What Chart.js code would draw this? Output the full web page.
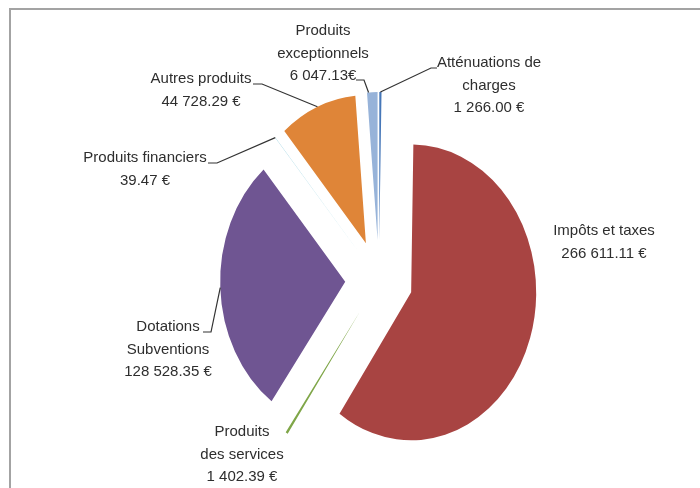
<!DOCTYPE html>
<html>
<head>
<meta charset="utf-8">
<script src="https://cdn.jsdelivr.net/npm/chart.js@4"></script>
<style>
  html, body { margin: 0; padding: 0; background: #fff; }
  #wrap { width: 700px; height: 488px; position: relative; }
</style>
</head>
<body>
<div id="wrap"><canvas id="c" width="700" height="488"></canvas></div>
<script>
// ---- data ----
const categories = ['Atténuations de charges', 'Impôts et taxes', 'Produits des services',
  'Dotations Subventions', 'Produits financiers', 'Autres produits', 'Produits exceptionnels'];
const values = [1266.00, 266611.11, 1402.39, 128528.35, 39.47, 44728.29, 6047.13];
const labelNameLines = [
  ['Atténuations de', 'charges'],
  ['Impôts et taxes'],
  ['Produits', 'des services'],
  ['Dotations', 'Subventions'],
  ['Produits financiers'],
  ['Autres produits'],
  ['Produits', 'exceptionnels']
];
const valueSuffix = [' €', ' €', ' €', ' €', ' €', ' €', '€'];
const colors = ['#4677B8', '#A84442', '#7FA648', '#6F5592', '#4BACC6', '#DF8538', '#97B3D9'];

// ---- layout / style ----
const SQUASH = 0.845;      // pie is drawn slightly narrower than tall
const EXPLODE = 40;        // slice explosion distance
const RADIUS = 148;
const LINE_H = 22.5;
// label layout: centre x, first line centre y, leader points (text side), arc fraction
const labelLayout = [
  { x: 489, y: 63, lead: [[437, 68], [431, 68]], t: 0.5 },
  { x: 604, y: 231, lead: null },
  { x: 242, y: 432, lead: null },
  { x: 168, y: 327, lead: [[203, 332], [211, 332]], t: 0.5 },
  { x: 145, y: 158, lead: [[208, 163], [217, 163]], t: 0.5 },
  { x: 201, y: 79, lead: [[253, 84], [262, 84]], t: 0.5 },
  { x: 323, y: 31, lead: [[356, 80], [364, 80]], t: 0.15 }
];

function fmt(v) {
  const parts = v.toFixed(2).split('.');
  parts[0] = parts[0].replace(/\B(?=(\d{3})+(?!\d))/g, ' ');
  return parts[0] + '.' + parts[1];
}

function centreX(chart) { return (chart.chartArea.left + chart.chartArea.right) / 2; }

function arcPoint(chart, arc, t) {
  const mid = (arc.startAngle + arc.endAngle) / 2;
  const a = arc.startAngle + t * (arc.endAngle - arc.startAngle);
  const x = arc.x + Math.cos(mid) * EXPLODE + Math.cos(a) * arc.outerRadius;
  const y = arc.y + Math.sin(mid) * EXPLODE + Math.sin(a) * arc.outerRadius;
  const cx = centreX(chart);
  return [cx + (x - cx) * SQUASH, y];
}

const framePlugin = {
  id: 'frame',
  beforeDraw(chart) {
    const ctx = chart.ctx;
    ctx.save();
    ctx.strokeStyle = '#a3a3a3';
    ctx.lineWidth = 2;
    ctx.beginPath();
    ctx.moveTo(10, 488);
    ctx.lineTo(10, 9);
    ctx.lineTo(700, 9);
    ctx.stroke();
    ctx.restore();
  }
};

const explodePlugin = {
  id: 'explode',
  beforeDatasetDraw(chart, args) {
    const ctx = chart.ctx;
    const cx = centreX(chart);
    ctx.save();
    ctx.translate(cx, 0);
    ctx.scale(SQUASH, 1);
    ctx.translate(-cx, 0);
    args.meta.data.forEach((arc) => {
      const mid = (arc.startAngle + arc.endAngle) / 2;
      ctx.save();
      ctx.translate(Math.cos(mid) * EXPLODE, Math.sin(mid) * EXPLODE);
      arc.draw(ctx);
      ctx.restore();
    });
    ctx.restore();
    return false;
  },
  afterDatasetsDraw(chart) {
    const ctx = chart.ctx;
    const meta = chart.getDatasetMeta(0);
    ctx.save();
    ctx.font = '15px "Liberation Sans", Arial, sans-serif';
    ctx.fillStyle = '#2e2e2e';
    ctx.textAlign = 'center';
    ctx.textBaseline = 'middle';
    labelLayout.forEach((L, i) => {
      const lines = labelNameLines[i].concat([fmt(values[i]) + valueSuffix[i]]);
      lines.forEach((s, k) => ctx.fillText(s, L.x, L.y + k * LINE_H));
      if (L.lead) {
        const p = arcPoint(chart, meta.data[i], L.t);
        ctx.strokeStyle = '#333333';
        ctx.lineWidth = 1.2;
        ctx.beginPath();
        ctx.moveTo(L.lead[0][0], L.lead[0][1]);
        for (let k = 1; k < L.lead.length; k++) ctx.lineTo(L.lead[k][0], L.lead[k][1]);
        ctx.lineTo(p[0], p[1]);
        ctx.stroke();
      }
    });
    ctx.restore();
  }
};

new Chart(document.getElementById('c'), {
  type: 'pie',
  data: {
    labels: categories,
    datasets: [{
      data: values,
      backgroundColor: colors,
      borderWidth: 0,
      offset: 0,
      hoverOffset: 0
    }]
  },
  options: {
    responsive: false,
    animation: false,
    events: [],
    radius: RADIUS,
    rotation: 0,
    layout: { padding: { left: 58, top: 72, right: 0, bottom: 0 } },
    plugins: {
      legend: { display: false },
      tooltip: { enabled: false }
    }
  },
  plugins: [framePlugin, explodePlugin]
});
</script>
</body>
</html>
